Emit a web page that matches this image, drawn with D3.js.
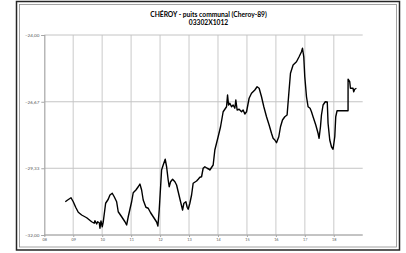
<!DOCTYPE html>
<html>
<head>
<meta charset="utf-8">
<script src="https://cdn.jsdelivr.net/npm/d3@7"></script>
<style>
  body { margin: 0; background: #fff; }
  svg { display: block; }
</style>
</head>
<body>
<div id="chart"></div>
<script>
const W = 406, H = 253
const MARGIN = { TOP: 35, BOTTOM: 18, LEFT: 44.3, RIGHT: 43.3 }
const WIDTH = W - MARGIN.LEFT - MARGIN.RIGHT
const HEIGHT = H - MARGIN.TOP - MARGIN.BOTTOM

const titleLines = ["CHÉROY - puits communal (Cheroy-89)", "03302X1012"]
const yTicks = [-24, -26.67, -29.33, -32]
const xTicks = [2008, 2009, 2010, 2011, 2012, 2013, 2014, 2015, 2016, 2017, 2018]

// decimal year of each reading
const dates = [
  2008.725, 2008.794, 2008.922, 2009.001, 2009.084, 2009.174, 2009.291, 2009.464, 2009.636, 2009.726,
  2009.750, 2009.809, 2009.843, 2009.899, 2009.923, 2009.957, 2010.002, 2010.037, 2010.119, 2010.209,
  2010.268, 2010.347, 2010.416, 2010.499, 2010.554, 2010.672, 2010.786, 2010.844, 2010.900, 2010.958,
  2011.017, 2011.072, 2011.165, 2011.245, 2011.303, 2011.362, 2011.417, 2011.510, 2011.590, 2011.673,
  2011.763, 2011.880, 2011.925, 2011.970, 2012.052, 2012.108, 2012.177, 2012.225, 2012.280, 2012.315,
  2012.363, 2012.432, 2012.512, 2012.570, 2012.626, 2012.708, 2012.777, 2012.822, 2012.891, 2012.936,
  2012.971, 2013.029, 2013.088, 2013.143, 2013.261, 2013.316, 2013.375, 2013.433, 2013.488, 2013.547,
  2013.627, 2013.696, 2013.720, 2013.834, 2013.892, 2014.006, 2014.089, 2014.179, 2014.238, 2014.296,
  2014.331, 2014.365, 2014.410, 2014.469, 2014.524, 2014.583, 2014.617, 2014.662, 2014.731, 2014.814,
  2014.869, 2014.928, 2014.987, 2015.076, 2015.159, 2015.273, 2015.352, 2015.422, 2015.504, 2015.584,
  2015.677, 2015.767, 2015.849, 2015.905, 2015.964, 2016.022, 2016.101, 2016.160, 2016.229, 2016.309,
  2016.388, 2016.457, 2016.505, 2016.595, 2016.712, 2016.802, 2016.885, 2016.920, 2016.964, 2016.999,
  2017.058, 2017.113, 2017.182, 2017.230, 2017.285, 2017.379, 2017.458, 2017.493, 2017.541, 2017.575,
  2017.631, 2017.707, 2017.776, 2017.803, 2017.862, 2017.921, 2017.976, 2018.035, 2018.069, 2018.114,
  2018.494, 2018.495, 2018.552, 2018.576, 2018.666, 2018.690, 2018.725, 2018.783
]
// water level (m)
const levels = [
  -30.67, -30.61, -30.51, -30.67, -30.89, -31.09, -31.20, -31.31, -31.47, -31.53,
  -31.43, -31.56, -31.47, -31.51, -31.73, -31.44, -31.67, -31.47, -30.73, -30.57,
  -30.40, -30.33, -30.47, -30.67, -31.07, -31.27, -31.47, -31.60, -31.27, -30.97,
  -30.67, -30.31, -30.20, -30.07, -29.96, -30.20, -30.60, -30.89, -30.93, -31.11,
  -31.27, -31.48, -31.64, -31.00, -29.40, -29.20, -28.97, -29.27, -29.80, -30.07,
  -29.87, -29.77, -29.87, -30.00, -30.27, -30.67, -31.00, -30.73, -30.67, -30.89,
  -30.97, -30.73, -30.40, -29.93, -29.84, -29.77, -29.69, -29.67, -29.33, -29.27,
  -29.33, -29.37, -29.40, -29.20, -28.60, -28.07, -27.67, -27.07, -26.97, -26.87,
  -26.40, -26.80, -26.73, -26.87, -26.80, -26.93, -26.60, -27.00, -26.97, -27.07,
  -27.00, -27.16, -27.07, -26.53, -26.33, -26.20, -26.07, -26.13, -26.47, -26.87,
  -27.27, -27.60, -27.93, -28.13, -28.20, -28.31, -28.07, -27.67, -27.40, -27.27,
  -27.20, -26.20, -25.53, -25.20, -25.07, -24.87, -24.67, -24.53, -24.87, -25.67,
  -26.47, -26.87, -26.93, -27.07, -27.27, -27.60, -27.93, -28.13, -27.67, -27.20,
  -26.80, -26.67, -26.68, -27.53, -28.20, -28.47, -28.57, -28.07, -27.27, -27.03,
  -27.03, -25.77, -25.87, -26.13, -26.13, -26.27, -26.17, -26.13
]

const svg = d3.select("#chart").append("svg")
  .attr("width", W)
  .attr("height", H)

// outer frame
svg.append("rect")
  .attr("x", 16.5).attr("y", 1.5).attr("width", 383).attr("height", 248.5)
  .attr("fill", "#fff").attr("stroke", "#262626").attr("stroke-width", 1.5)
svg.append("rect")
  .attr("x", 19.5).attr("y", 4.5).attr("width", 377).attr("height", 242.5)
  .attr("fill", "none").attr("stroke", "#8c8c8c").attr("stroke-width", 0.8)

svg.selectAll("text.title")
  .data(titleLines)
  .enter().append("text")
    .attr("class", "title")
    .attr("x", 208.5)
    .attr("y", (d, i) => 17 + i * 8)
    .attr("text-anchor", "middle")
    .attr("font-family", "Lato, 'Open Sans', sans-serif")
    .attr("font-weight", "bold")
    .attr("font-size", 6.7)
    .attr("fill", "#000")
    .text(d => d)

const g = svg.append("g")
  .attr("transform", `translate(${MARGIN.LEFT}, ${MARGIN.TOP})`)

const x = d3.scaleLinear()
  .domain([2008, 2019])
  .range([0, WIDTH])

const y = d3.scaleLinear()
  .domain([-32, -24])
  .range([HEIGHT, 0])

// vertical grid
g.append("g")
  .selectAll("line")
  .data(xTicks.slice(1))
  .enter().append("line")
    .attr("x1", d => x(d)).attr("x2", d => x(d))
    .attr("y1", 0).attr("y2", HEIGHT)
    .attr("stroke", "#d9d9d9").attr("stroke-width", 1.4)

// horizontal grid
g.append("g")
  .selectAll("line")
  .data(yTicks)
  .enter().append("line")
    .attr("x1", 0).attr("x2", WIDTH)
    .attr("y1", d => y(d)).attr("y2", d => y(d))
    .attr("stroke", "#c4c4c4").attr("stroke-width", 1)

const yAxis = g.append("g")
  .call(d3.axisLeft(y).tickValues(yTicks).tickSize(3).tickPadding(2)
    .tickFormat(d => d3.format(".2f")(d).replace(".", ",")))
yAxis.select(".domain").attr("stroke", "#a6a6a6").attr("stroke-width", 1.2)
yAxis.selectAll(".tick line").attr("stroke", "#a6a6a6")
yAxis.selectAll("text")
  .attr("font-family", "Lato, 'Open Sans', sans-serif")
  .attr("font-size", 4.6)
  .attr("fill", "#595959")

const xAxis = g.append("g")
  .attr("transform", `translate(0, ${HEIGHT})`)
  .call(d3.axisBottom(x).tickValues(xTicks).tickSize(2).tickPadding(1.5)
    .tickFormat(d => String(d % 100).padStart(2, "0")))
xAxis.select(".domain").attr("stroke", "#a6a6a6").attr("d", `M0,0H${WIDTH}`)
xAxis.selectAll(".tick line").attr("stroke", "#a6a6a6")
xAxis.selectAll("text")
  .attr("font-family", "Lato, 'Open Sans', sans-serif")
  .attr("font-size", 3.8)
  .attr("fill", "#595959")

const points = dates.map((d, i) => [d, levels[i]])

g.append("path")
  .datum(points)
  .attr("fill", "none")
  .attr("stroke", "#000")
  .attr("stroke-width", 1.4)
  .attr("stroke-linejoin", "round")
  .attr("d", d3.line().x(d => x(d[0])).y(d => y(d[1])))
</script>
</body>
</html>
